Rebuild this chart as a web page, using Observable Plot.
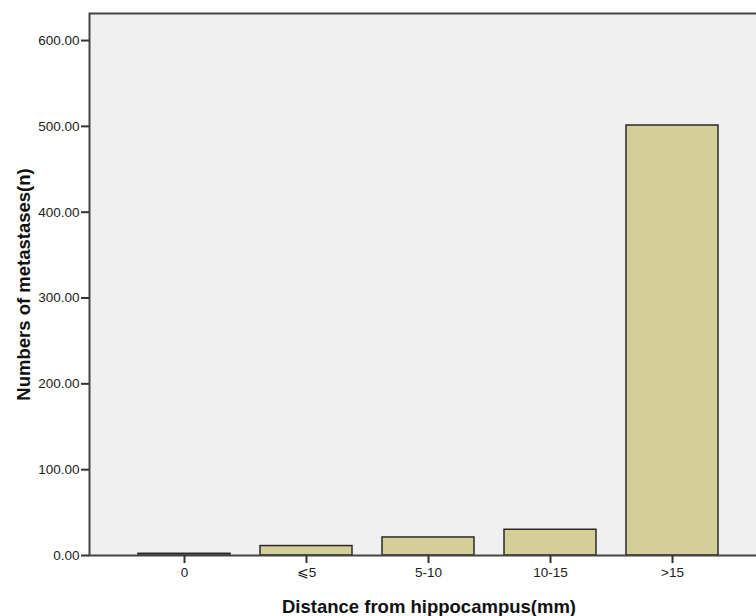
<!DOCTYPE html>
<html>
<head>
<meta charset="utf-8">
<script src="https://cdn.jsdelivr.net/npm/d3@7"></script>
<script src="https://cdn.jsdelivr.net/npm/@observablehq/plot@0.6"></script>
<style>
  html, body { margin: 0; padding: 0; background: #ffffff; overflow: hidden; }
  #chart svg { display: block; max-width: none; }
  #chart g[aria-label="x-axis label"] text { font-weight: bold; font-size: 18.5px; fill: #111; }
  #chart g[aria-label="y-axis label"] text { font-weight: bold; font-size: 18.5px; fill: #111; }
  #chart g[aria-label="x-axis tick label"] text, #chart g[aria-label="y-axis tick label"] text { font-size: 13.5px; fill: #222; }
</style>
</head>
<body>
<div id="chart"></div>
<script>
const categories = ["0", "⩽5", "5-10", "10-15", ">15"];
const counts = [2, 11, 21, 30, 501];
const yTicks = [0, 100, 200, 300, 400, 500, 600];
const xLabel = "Distance from hippocampus(mm)";
const yLabel = "Numbers of metastases(n)";

const data = categories.map((c, i) => ({category: c, count: counts[i]}));

const chart = Plot.plot({
  width: 756,
  height: 616,
  marginLeft: 89,
  marginRight: -12,
  marginTop: 13,
  marginBottom: 61,
  style: {fontFamily: "'Liberation Sans', Arial, sans-serif", fontSize: "13.5px", color: "#222", background: "#ffffff"},
  x: {domain: categories, paddingInner: 0.245, paddingOuter: 0.394},
  y: {domain: [0, 631.5]},
  marks: [
    Plot.frame({fill: "#f0f0f0", stroke: null}),
    Plot.barY(data, {x: "category", y: "count", fill: "#d3cf97", stroke: "#2a2a2a", strokeWidth: 1.5}),
    Plot.frame({stroke: "#444", strokeWidth: 2}),
    Plot.axisY({ticks: yTicks, tickFormat: d3.format(".2f"), tickSize: 8, tickPadding: 2, strokeWidth: 2, stroke: "#333",
      label: yLabel, labelAnchor: "center", labelOffset: 73, labelArrow: "none"}),
    Plot.axisX({tickSize: 8, tickPadding: 4, strokeWidth: 2, stroke: "#333",
      label: xLabel, labelAnchor: "center", labelOffset: 57, labelArrow: "none"})
  ]
});
document.getElementById("chart").appendChild(chart);
</script>
</body>
</html>
